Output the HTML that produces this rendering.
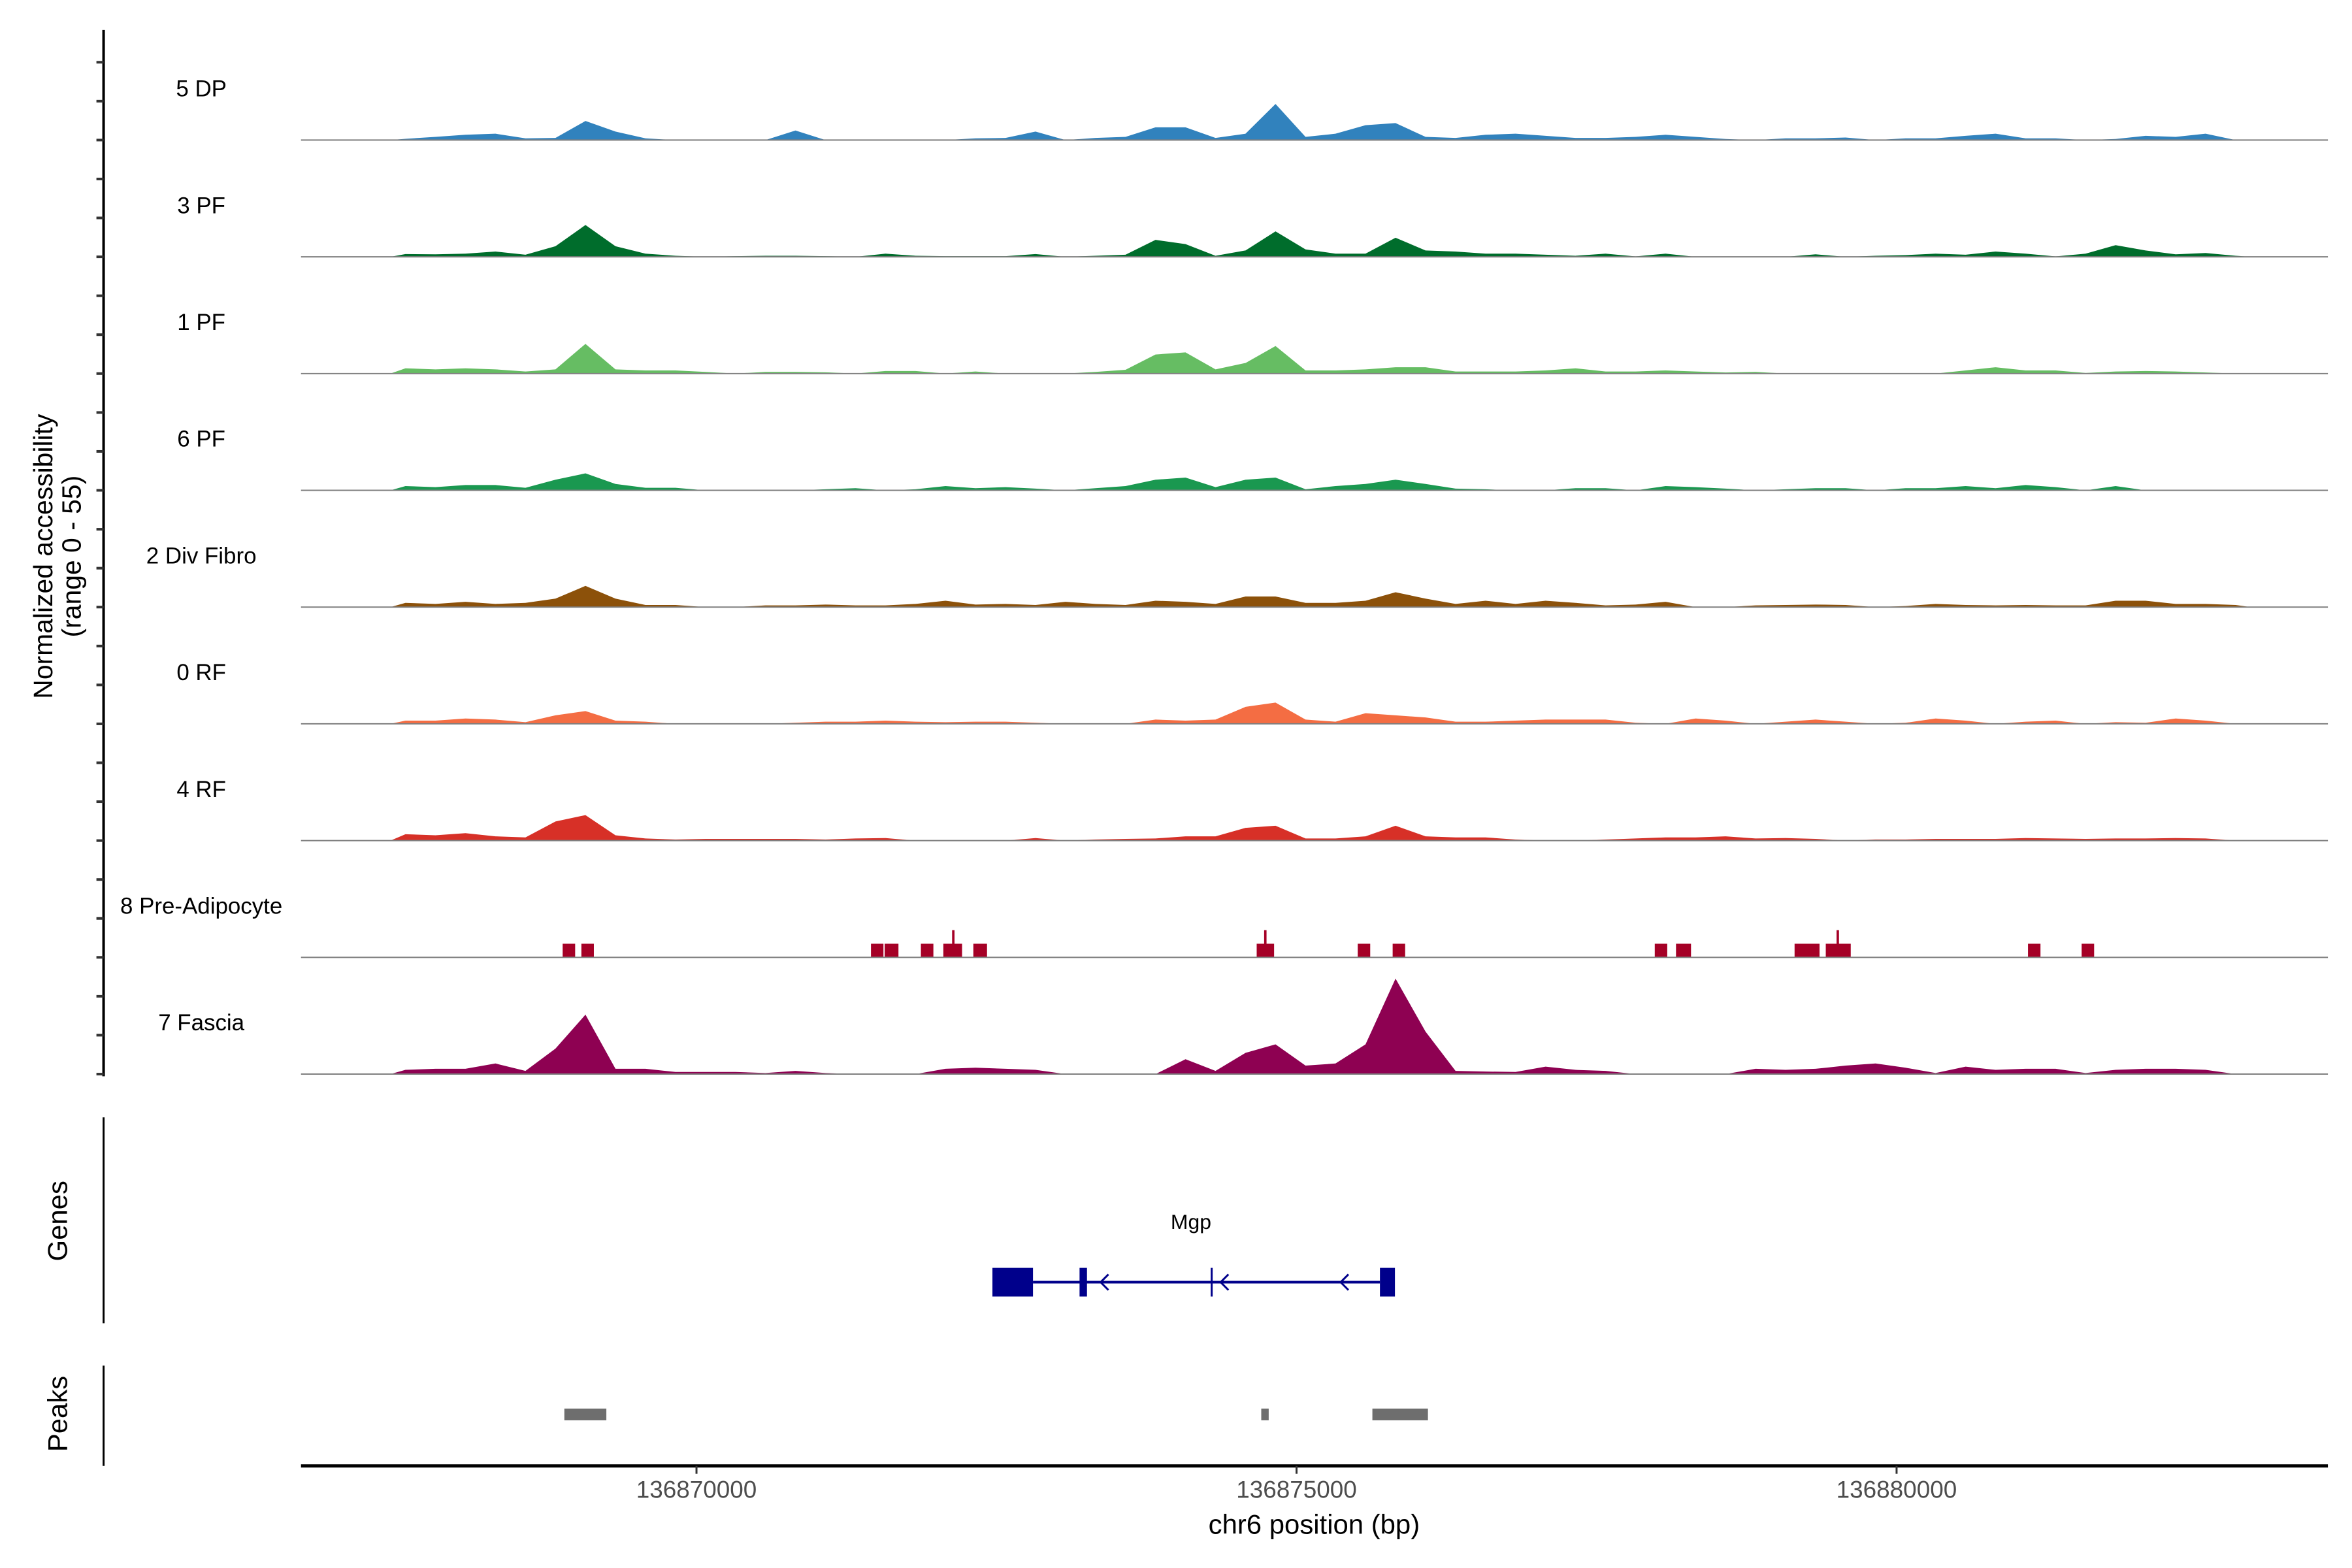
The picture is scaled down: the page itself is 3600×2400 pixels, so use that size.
<!DOCTYPE html>
<html><head><meta charset="utf-8"><style>
html,body{margin:0;padding:0;background:#fff;}
svg{display:block;font-family:"Liberation Sans",sans-serif;}
</style></head><body>
<svg id="chart" width="3600" height="2400" viewBox="0 0 3600 2400" xmlns="http://www.w3.org/2000/svg">
<rect width="3600" height="2400" fill="#fff"/>
<g transform="scale(0.99723)">
<g id="yaxis"></g>
<g id="tracks"></g>
<g id="genes"></g>
<g id="peaks"></g>
<g id="xaxis"></g>
<text transform="translate(80,854) rotate(-90)" text-anchor="middle" font-size="41" fill="#000">Normalized accessibility</text>
<text transform="translate(124,854) rotate(-90)" text-anchor="middle" font-size="41" fill="#000">(range 0 - 55)</text>
<text transform="translate(103,1874) rotate(-90)" text-anchor="middle" font-size="42" fill="#000">Genes</text>
<text transform="translate(103,2170) rotate(-90)" text-anchor="middle" font-size="42" fill="#000">Peaks</text>
<text x="2017" y="2354" text-anchor="middle" font-size="42" fill="#000">chr6 position (bp)</text>
</g>
</svg>
<script>
const NS="http://www.w3.org/2000/svg";
const trackNames=["5 DP","3 PF","1 PF","6 PF","2 Div Fibro","0 RF","4 RF","8 Pre-Adipocyte","7 Fascia"];
const trackColors=["#3182bd","#006d2c","#66bd63","#1a9850","#8c510a","#f46d43","#d73027","#a50026","#8e0152"];
const binStart=136867450;
const binSize=250;
const cov5DP=[0.6,1.5,2.5,3,0.8,1,9,4,0.8,0,0,0,0,4.5,0,0,0,0,0,0.8,1,4,0,1,1.5,6,6,1,3,17,1.5,3,7,8,1.5,1,2.5,3,2,1,1,1.5,2.5,1.5,0.5,0,0.8,0.8,1.2,0,0.8,0.8,2,3,0.8,0.8,0,0.5,2,1.5,3,0];
const cov3PF=[1.3,1.2,1.5,2.5,1,5,15,5,1.5,0.5,0,0.3,0.5,0.5,0.3,0,1.5,0.5,0.3,0.3,0.3,1.3,0,0.5,1,8,6,0.5,3,12,3.5,1.5,1.5,9,3,2.5,1.5,1.5,1,0.5,1.5,0.2,1.5,0,0,0,0,1.2,0,0.5,0.8,1.5,1,2.5,1.5,0.2,1.5,5.5,3,1.2,1.8,0.5];
const cov1PF=[2.5,2,2.5,2,1,2,14,2,1.5,1.5,0.8,0,0.8,0.8,0.6,0,1.2,1.2,0,1,0,0,0,0.8,1.8,9,10,2,5,13,1.5,1.5,2,3,3,1,1,1,1.5,2.5,1,1,1.5,1,0.5,0.8,0,0,0,0,0,0,1.5,3,1.5,1.5,0.3,1,1.2,1,0.5,0];
const cov6PF=[2,1.5,2.5,2.5,1.2,5,8,3,1.2,1.2,0,0,0,0,0.5,1,0,0.5,2,1,1.5,0.8,0,1,2,5,6,1.5,5,6,0.5,2,3,5,3,0.8,0.5,0,0,1,1,0,2,1.5,0.8,0,0.5,1,1,0,1,1,2,1,2.5,1.5,0,2,0,0,0,0];
const cov2DivFibro=[2,1.5,2.5,1.5,2,4,10,4,1,1,0,0,0.8,0.8,1.2,0.8,0.8,1.5,3,1.2,1.5,1,2.5,1.5,1,3,2.5,1.5,5,5,2,2,3,7,4,1.5,3,1.5,3,2,0.8,1.2,2.5,0,0,0.8,1,1.2,1,0,0.5,1.5,1,0.8,1,0.8,0.8,3,3,1.5,1.5,1];
const cov0RF=[1.5,1.5,2.5,2,0.8,4,6,1.5,1,0,0,0,0,0.5,1,1,1.5,1,0.8,1,1,0.5,0,0,0,2,1.5,2,8,10,2,1,5,4,3,1,1,1.5,2,2,2,0.5,0,2.5,1.5,0,1,2,1,0,0.5,2.5,1.5,0,1,1.5,0,0.8,0.5,2.5,1.5,0];
const cov4RF=[3,2.5,3.5,2,1.5,9,12,2.5,1,0.5,0.8,0.8,0.8,0.8,0.5,1,1.2,0,0,0,0,1.2,0,0.5,0.8,1,2,2,6,7,1,1,2,7,2,1.5,1.5,0.5,0,0,0.5,1,1.5,1.5,2,1,1.2,0.8,0,0.5,0.5,0.8,0.8,0.8,1.2,1,0.8,1,1,1.2,1,0];
const cov7Fascia=[2,2.5,2.5,5,1.5,12,28,2.5,2.5,1,1,1,0.5,1.5,0.5,0,0,0,2.5,3,2.5,2,0,0,0,0,7,1.5,10,14,4,5,14,45,20,1.5,1.2,1,3.5,2,1.5,0,0,0,0,2.5,2,2.5,4,5,3,0.5,3.5,2,2.5,2.5,0.5,2,2.5,2.5,2,0];
const preAdipStarts=[136868885,136869041,136871454,136871568,136871870,136872057,136872130,136872307,136874668,136874730,136875510,136875801,136877985,136878162,136879150,136879410,136879500,136881095,136881542];
const preAdipEnds=[136868989,136869145,136871558,136871683,136871974,136872213,136872150,136872421,136874813,136874750,136875614,136875905,136878089,136878287,136879358,136879618,136879520,136881199,136881646];
const preAdipValues=[6.4,6.4,6.4,6.4,6.4,6.4,12.8,6.4,6.4,12.8,6.4,6.4,6.4,6.4,6.4,6.4,12.8,6.4,6.4];
const trackData=[cov5DP,cov3PF,cov1PF,cov6PF,cov2DivFibro,cov0RF,cov4RF,null,cov7Fascia];
const xTicks=[136870000,136875000,136880000];
const peakStarts=[136868899,136874706,136875632];
const peakEnds=[136869249,136874768,136876095];
const exonStarts=[136872466,136873192,136875695];
const exonEnds=[136872804,136873254,136875820];
const geneStart=136872804, geneEnd=136875695, geneTick=136874293;
const arrowPos=[136873400,136874400,136875400];

const X0=462,X1=3573;
function xs(bp){return 1069+(bp-136870000)*921/5000;}
const base0=215, spacing=179.2, ymax=55;
function ys(v,k){return base0+k*spacing - v*(spacing/ymax);}
function el(tag,attrs,parent){const e=document.createElementNS(NS,tag);for(const a in attrs)e.setAttribute(a,attrs[a]);parent.appendChild(e);return e;}

const ya=document.getElementById('yaxis');
const yl=el('line',{x1:159,y1:46,x2:159,y2:1652,stroke:'#000','stroke-width':4},ya);


for(let k=0;k<9;k++){for(let j=0;j<3;j++){
  const y=base0+k*spacing-j*spacing/3;
  const t=el('line',{x1:148,y1:y,x2:159,y2:y,stroke:'#333','stroke-width':4},ya);
  
  
}}

const tg=document.getElementById('tracks');
for(let k=0;k<9;k++){
  const g=el('g',{},tg);
  
  
  const base=ys(0,k);
  let d='';
  if(trackData[k]){
    const arr=trackData[k];
    d='M'+xs(binStart)+','+base;
    for(let i=0;i<arr.length;i++){
      const c=xs(binStart+(i+0.5)*binSize);
      d+=' L'+c+','+ys(arr[i],k);
    }
    d+=' L'+xs(binStart+arr.length*binSize)+','+base+' Z';
  } else {
    for(let i=0;i<preAdipStarts.length;i++){
      const a=xs(preAdipStarts[i]), b=xs(preAdipEnds[i]), y=ys(preAdipValues[i],k);
      d+='M'+a+','+base+' L'+a+','+y+' L'+b+','+y+' L'+b+','+base+' Z ';
    }
  }
  const p=el('path',{d:d,fill:trackColors[k]},g);
  
  
  const bl=el('line',{x1:X0,y1:base,x2:X1,y2:base,stroke:'#7f7f7f','stroke-width':2},g);
  
  
  const lb=el('text',{x:309,y:base-67,'text-anchor':'middle','font-size':35,fill:'#000'},g);
  lb.textContent=trackNames[k];
  
  
}

const gg=document.getElementById('genes');
const gl=el('line',{x1:159,y1:1715,x2:159,y2:2031,stroke:'#000','stroke-width':3},gg);


const gy=1968;
const intr=el('line',{x1:xs(geneStart),y1:gy,x2:xs(geneEnd),y2:gy,stroke:'#00008b','stroke-width':4},gg);


for(let i=0;i<exonStarts.length;i++){
  const r=el('rect',{x:xs(exonStarts[i]),y:gy-22,width:Math.max(4,xs(exonEnds[i])-xs(exonStarts[i])),height:44,fill:'#00008b'},gg);
  
  
}
const vt=el('line',{x1:xs(geneTick),y1:gy-22,x2:xs(geneTick),y2:gy+22,stroke:'#00008b','stroke-width':3},gg);


for(const a of arrowPos){
  const ax=xs(a);
  const ar=el('path',{d:'M'+(ax+6)+','+(gy-12)+' L'+(ax-6)+','+gy+' L'+(ax+6)+','+(gy+12),fill:'none',stroke:'#00008b','stroke-width':3},gg);
  
  
}
const gn=el('text',{x:1828,y:1886,'text-anchor':'middle','font-size':32,fill:'#000'},gg);
gn.textContent='Mgp';



const pg=document.getElementById('peaks');
const pl=el('line',{x1:159,y1:2096,x2:159,y2:2250,stroke:'#000','stroke-width':3},pg);


for(let i=0;i<peakStarts.length;i++){
  const r=el('rect',{x:xs(peakStarts[i]),y:2162,width:Math.max(10,xs(peakEnds[i])-xs(peakStarts[i])),height:18,fill:'#6e6e6e'},pg);
  
  
}

const xa=document.getElementById('xaxis');
const xl=el('line',{x1:X0,y1:2250,x2:X1,y2:2250,stroke:'#000','stroke-width':5},xa);


for(const t of xTicks){
  const tx=xs(t);
  const tk=el('line',{x1:tx,y1:2250,x2:tx,y2:2262,stroke:'#333','stroke-width':3},xa);
  
  
  const tl=el('text',{x:tx,y:2299,'text-anchor':'middle','font-size':37,fill:'#4d4d4d'},xa);
  tl.textContent=String(t);
  
  
}
</script>
</body></html>
